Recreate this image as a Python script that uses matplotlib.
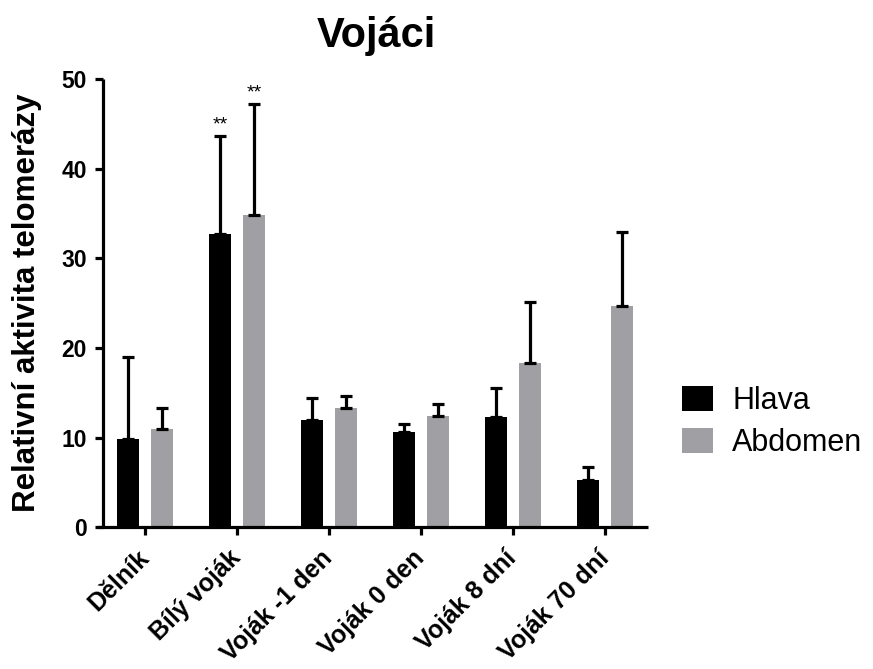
import matplotlib
matplotlib.use("Agg")
import matplotlib.pyplot as plt
from matplotlib.patches import Patch
import numpy as np

plt.rcParams['font.family'] = ['Liberation Sans', 'DejaVu Sans']

categories = ["Dělník", "Bílý voják", "Voják -1 den", "Voják 0 den", "Voják 8 dní", "Voják 70 dní"]
hlava = [9.8, 32.7, 12.0, 10.6, 12.3, 5.3]
hlava_err = [9.2, 10.9, 2.4, 0.9, 3.2, 1.4]
abdomen = [10.9, 34.8, 13.3, 12.4, 18.3, 24.7]
abdomen_err = [2.4, 12.4, 1.3, 1.3, 6.8, 8.2]
stars = {1: "**"}  # group index -> significance marks on both bars

gray = '#a0a0a4'
lw = 2.3

fig = plt.figure(figsize=(8.73, 6.69), dpi=100)
ax = fig.add_axes([0.1111, 0.212, 0.6312, 0.670])

x = np.arange(len(categories))
w = 0.245
off = 0.185
ax.bar(x - off, hlava, w, color='black', label='Hlava', zorder=2)
ax.bar(x + off, abdomen, w, color=gray, label='Abdomen', zorder=2)

ax.errorbar(x - off, hlava, yerr=[np.zeros(len(x)), hlava_err], fmt='none',
            ecolor='black', elinewidth=lw, capsize=4.2, capthick=lw, zorder=3)
ax.errorbar(x + off, abdomen, yerr=[np.zeros(len(x)), abdomen_err], fmt='none',
            ecolor='black', elinewidth=lw, capsize=4.2, capthick=lw, zorder=3)

for i, s in stars.items():
    ax.text(i - off, hlava[i] + hlava_err[i] + 0.3, s, ha='center', va='bottom', fontsize=14)
    ax.text(i + off, abdomen[i] + abdomen_err[i] + 0.3, s, ha='center', va='bottom', fontsize=14)

ax.set_xlim(-0.522, 5.467)
ax.set_ylim(0, 50)
ax.spines['top'].set_visible(False)
ax.spines['right'].set_visible(False)
ax.spines['left'].set_position(('data', -0.457))
for sp in ['left', 'bottom']:
    ax.spines[sp].set_linewidth(lw)
    ax.spines[sp].set_capstyle('butt')

ax.set_yticks([0, 10, 20, 30, 40, 50])
ax.set_xticks(x)
ax.set_xticklabels(categories, rotation=45, ha='right', va='center',
                   rotation_mode='anchor', fontsize=18, fontweight='bold')
for lab in ax.get_yticklabels():
    lab.set_fontsize(16.5)
    lab.set_fontweight('bold')
ax.tick_params(axis='y', length=5.5, width=lw, pad=6)
ax.tick_params(axis='x', length=5.5, width=lw, pad=14)

ax.set_ylabel("Relativní aktivita telomerázy", fontsize=22.5, fontweight='bold', labelpad=14)
fig.text(376 / 873, 1 - 47 / 669, "Vojáci", ha='center', va='baseline',
         fontsize=30, fontweight='bold')

handles = [Patch(facecolor='black'), Patch(facecolor=gray)]
fig.legend(handles, ['Hlava', 'Abdomen'], loc='center left',
           bbox_to_anchor=(682 / 873, 1 - 422 / 669), frameon=False,
           borderpad=0, borderaxespad=0,
           fontsize=22, handlelength=1.0, handleheight=0.9, labelspacing=0.4,
           handletextpad=0.65)

fig.savefig("out.png", dpi=100)
